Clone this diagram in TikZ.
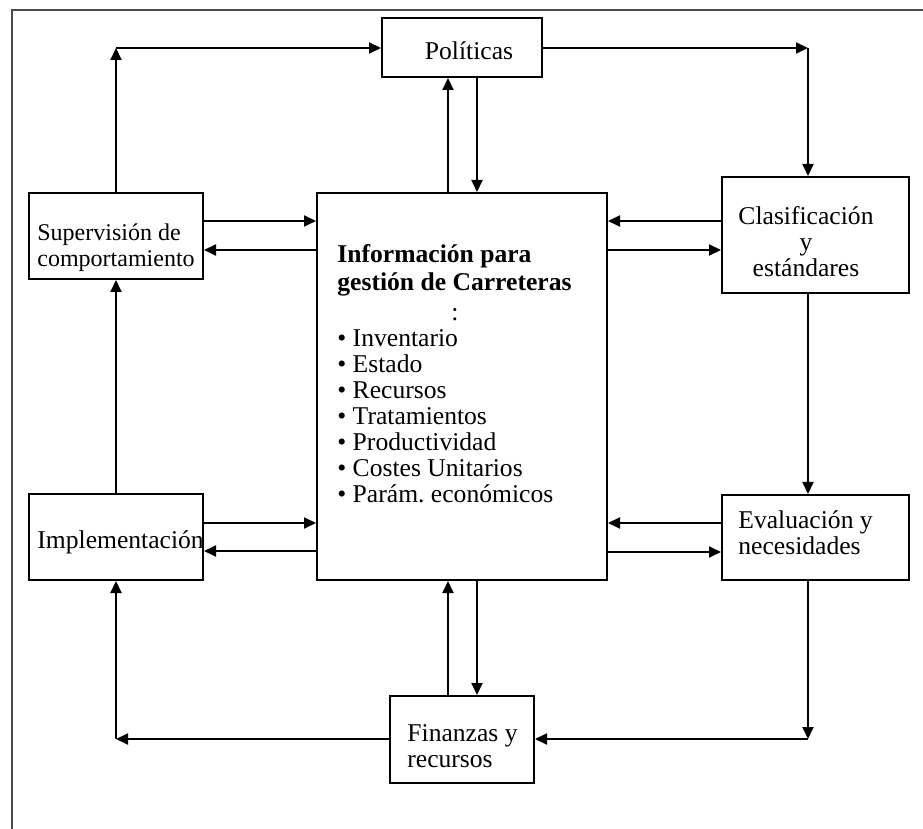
\documentclass[tikz,border=0pt]{standalone}
\usepackage{fontspec}
\setmainfont{Liberation Serif}
\usetikzlibrary{arrows.meta}
\frenchspacing
\begin{document}
\begin{tikzpicture}[x=0.5pt,y=-0.5pt,
  box/.style={draw, line width=1pt, inner sep=0pt, fill=white},
  txt/.style={inner sep=0pt, font=\fontsize{12.8}{13}\selectfont},
  smalltxt/.style={inner sep=0pt, font=\fontsize{12}{12.8}\selectfont},
  arr/.style={line width=1pt, -{Triangle[length=6pt,width=5.5pt]}},
  frame/.style={line width=0.8pt, draw=black!70}]
\useasboundingbox (0,0) rectangle (923,829);
% partial frame
\coordinate (ftl) at (12,10);
\coordinate (ftr) at (923,10);
\coordinate (fbl) at (12,829);
\draw[frame] (ftr) -- (ftl) -- (fbl);
% boxes
\node[box, minimum width=80pt, minimum height=29.5pt] (pol) at (462,47.5) {};
\node[box, minimum width=145pt, minimum height=193.5pt] (info) at (462,386.5) {};
\node[box, minimum width=87pt, minimum height=43pt] (sup) at (116,236) {};
\node[box, minimum width=87pt, minimum height=43pt] (imp) at (116,537) {};
\node[box, minimum width=93.5pt, minimum height=58pt] (cla) at (815.5,235) {};
\node[box, minimum width=93.5pt, minimum height=42.5pt] (eva) at (815.5,537.5) {};
\node[box, minimum width=72pt, minimum height=43.5pt] (fin) at (462,739.5) {};
% texts
\node[txt] (polt) at (469,51) {Políticas};
\node[smalltxt, anchor=west, align=left] (supt) at (37,248) {Supervisión de\\comportamiento};
\node[txt, anchor=west] (impt) at (37,542) {Implementación};
\node[txt, align=center] (clat) at (806,242) {Clasificación\\y\\estándares};
\node[txt, anchor=west, align=left] (evat) at (738,533) {Evaluación y\\necesidades};
\node[txt, anchor=west, align=left] (fint) at (407,746) {Finanzas y\\recursos};
\node[txt, anchor=north west, align=left] (infot) at (337,244)
  {\textbf{Información para}\\[1pt]\textbf{gestión de Carreteras}\\[2pt]\hspace*{57pt}:\\
   • Inventario\\• Estado\\• Recursos\\• Tratamientos\\• Productividad\\• Costes Unitarios\\• Parám.\ económicos};
% corner coordinates
\coordinate (ctl) at (116,48);
\coordinate (ctr) at (808,48);
\coordinate (cbl) at (116,739);
\coordinate (cbr) at (808,739);
% outer loop
\draw[arr] (sup.north) -- (ctl);
\draw[arr] (ctl) -- (pol.west |- ctl);
\draw[arr] (pol.east |- ctr) -- (ctr);
\draw[arr] (ctr) -- (ctr |- cla.north);
\draw[arr] (cla.south -| ctr) -- (ctr |- eva.north);
\draw[arr] (eva.south -| cbr) -- (cbr);
\draw[arr] (cbr) -- (fin.east |- cbr);
\draw[arr] (fin.west |- cbl) -- (cbl);
\draw[arr] (cbl) -- (imp.south);
\draw[arr] (imp.north) -- (sup.south);
% politicas <-> info
\draw[arr] (info.north -| 448,0) -- (pol.south -| 448,0);
\draw[arr] (pol.south -| 477,0) -- (info.north -| 477,0);
% info <-> finanzas
\draw[arr] (fin.north -| 448,0) -- (info.south -| 448,0);
\draw[arr] (info.south -| 477,0) -- (fin.north -| 477,0);
% left boxes <-> info
\draw[arr] (sup.east |- 0,221) -- (info.west |- 0,221);
\draw[arr] (info.west |- 0,250) -- (sup.east |- 0,250);
\draw[arr] (imp.east |- 0,523) -- (info.west |- 0,523);
\draw[arr] (info.west |- 0,551) -- (imp.east |- 0,551);
% right boxes <-> info
\draw[arr] (cla.west |- 0,221) -- (info.east |- 0,221);
\draw[arr] (info.east |- 0,250) -- (cla.west |- 0,250);
\draw[arr] (eva.west |- 0,523) -- (info.east |- 0,523);
\draw[arr] (info.east |- 0,552) -- (eva.west |- 0,552);
\end{tikzpicture}
\end{document}
